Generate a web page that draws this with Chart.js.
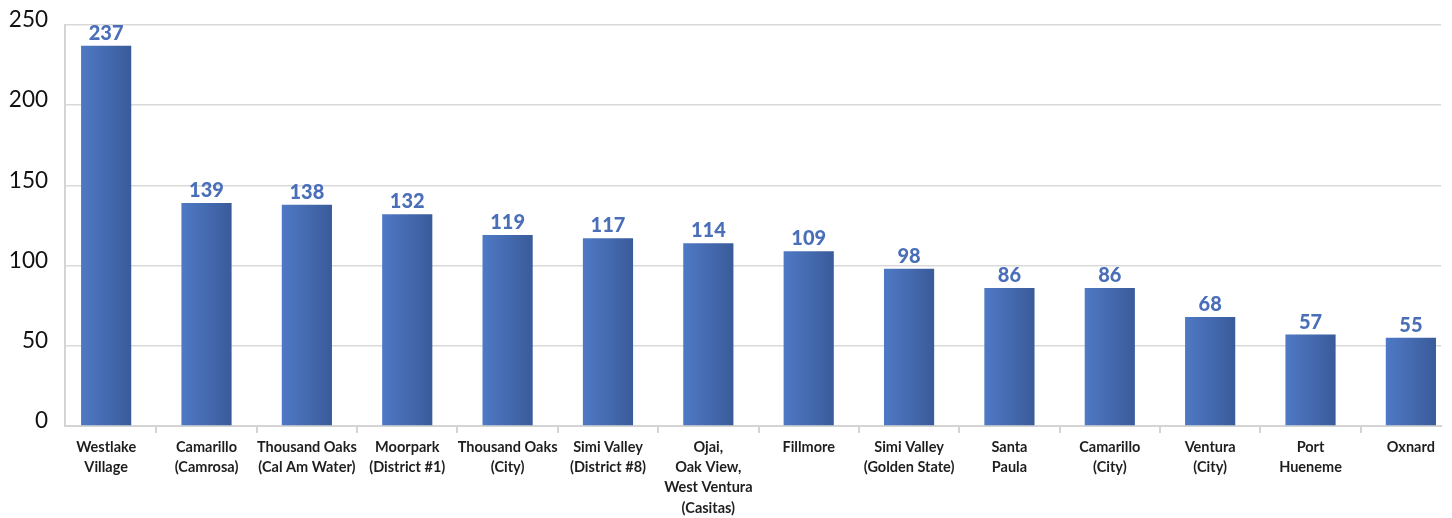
<!DOCTYPE html>
<html>
<head>
<meta charset="utf-8">
<script src="https://cdn.jsdelivr.net/npm/chart.js@4.4.0/dist/chart.umd.min.js"></script>
<style>
  html, body { margin: 0; padding: 0; background: #fff; }
  #wrap { width: 1452px; height: 518px; position: relative; }
</style>
</head>
<body>
<div id="wrap"><canvas id="c"></canvas></div>
<script>
// ---- datos ----
const categories = [
  ["Westlake", "Village"],
  ["Camarillo", "(Camrosa)"],
  ["Thousand Oaks", "(Cal Am Water)"],
  ["Moorpark", "(District #1)"],
  ["Thousand Oaks", "(City)"],
  ["Simi Valley", "(District #8)"],
  ["Ojai,", "Oak View,", "West Ventura", "(Casitas)"],
  ["Fillmore"],
  ["Simi Valley", "(Golden State)"],
  ["Santa", "Paula"],
  ["Camarillo", "(City)"],
  ["Ventura", "(City)"],
  ["Port", "Hueneme"],
  ["Oxnard"]
];
const values = [237, 139, 138, 132, 119, 117, 114, 109, 98, 86, 86, 68, 57, 55];
const yTicks = [0, 50, 100, 150, 200, 250];

const BAR_PCT = 0.5;
// el eje x arranca un poco antes de la primera categoría y queda recortado a la derecha
const X_MIN = -0.41;
const X_MAX = 13.3;

// gradiente horizontal por barra
function barGradient(context) {
  const chart = context.chart;
  const xs = chart.scales.x;
  if (!xs || context.dataIndex === undefined) return '#4669ad';
  const cx = xs.getPixelForValue(context.dataIndex);
  const w = (xs.getPixelForValue(1) - xs.getPixelForValue(0)) * BAR_PCT;
  if (!isFinite(cx) || !isFinite(w) || w <= 0) return '#4669ad';
  const g = chart.ctx.createLinearGradient(cx - w / 2, 0, cx + w / 2, 0);
  g.addColorStop(0, '#4f79c5');
  g.addColorStop(1, '#3a5b9a');
  return g;
}

// etiquetas de valor encima de cada barra
const valueLabels = {
  id: 'valueLabels',
  afterDatasetsDraw(chart) {
    const ctx = chart.ctx;
    const meta = chart.getDatasetMeta(0);
    ctx.save();
    ctx.font = '900 20px Lato';
    ctx.fillStyle = '#4a6fb8';
    ctx.textAlign = 'center';
    ctx.textBaseline = 'alphabetic';
    meta.data.forEach((bar, i) => {
      ctx.fillText(String(values[i]), bar.x, bar.y - 6);
    });
    ctx.restore();
  }
};

new Chart(document.getElementById('c'), {
  type: 'bar',
  data: {
    datasets: [{
      data: values.map((v, i) => ({ x: i, y: v })),
      backgroundColor: barGradient,
      borderWidth: 0,
      barPercentage: BAR_PCT,
      categoryPercentage: 1.0
    }]
  },
  options: {
    responsive: true,
    maintainAspectRatio: false,
    animation: false,
    devicePixelRatio: 1,
    layout: { padding: { top: 25, right: 11, bottom: 0, left: 0 } },
    plugins: {
      legend: { display: false },
      tooltip: { enabled: false }
    },
    scales: {
      x: {
        type: 'linear',
        offset: false,
        min: X_MIN,
        max: X_MAX,
        afterBuildTicks: s => { s.ticks = categories.map((c, i) => ({ value: i })); },
        grid: {
          offset: true,
          drawOnChartArea: false,
          tickLength: 7,
          color: '#d4d4d4',
          lineWidth: 2
        },
        border: { color: '#d4d4d4', width: 2 },
        ticks: {
          maxRotation: 0,
          autoSkip: false,
          padding: 4,
          color: '#1e1e1e',
          font: { family: 'Lato', size: 14.5, weight: 'bold', lineHeight: 1.4 },
          callback: (v) => categories[v]
        },
        afterFit: s => { s.height = 92; s.paddingLeft = 0; s.paddingRight = 0; }
      },
      y: {
        min: 0,
        max: 250,
        afterBuildTicks: s => { s.ticks = yTicks.map(v => ({ value: v })); },
        grid: { color: '#d9d9d9', lineWidth: 1.5, drawTicks: false },
        border: { color: '#d4d4d4', width: 2 },
        ticks: {
          padding: 17,
          labelOffset: -5,
          color: '#111',
          font: { family: 'Lato', size: 22.5 }
        },
        afterFit: s => { s.width = 65; s.paddingTop = 0; s.paddingBottom = 0; }
      }
    }
  },
  plugins: [valueLabels]
});
</script>
</body>
</html>
